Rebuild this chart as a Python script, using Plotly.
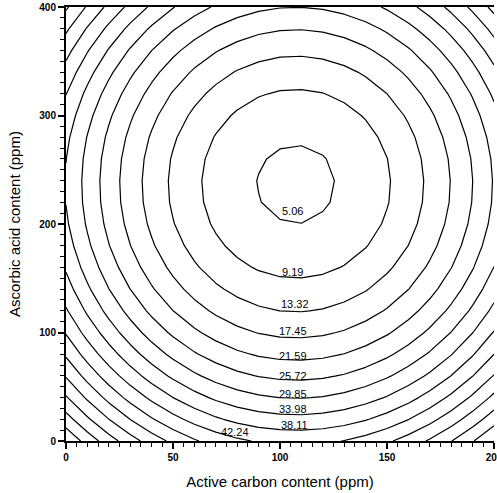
import numpy as np
import plotly.graph_objects as go

# Response-surface coefficients (second-order model, no interaction)
z_min = 4.17          # minimum response
x_opt = 107.5         # active carbon at minimum (ppm)
y_opt = 237.0         # ascorbic acid at minimum (ppm)
b_xx = 2.555e-3       # quadratic coefficient, active carbon
b_yy = 6.57e-4        # quadratic coefficient, ascorbic acid

# Design grid
x_grid = np.arange(0, 201, 10)
y_grid = np.arange(0, 401, 20)

# Contour levels and their printed labels
levels = [5.06, 9.19, 13.32, 17.45, 21.59, 25.72, 29.85, 33.98, 38.11, 42.24]
level_labels = ["5.06", "9.19", "13.32", "17.45", "21.59", "25.72", "29.85", "33.98", "38.11", "42.24"]
label_x = [106, 106, 107, 106, 106, 106, 106, 106, 107, 79]
label_lift_px = [13, 7, 8, 7, 5, 4, 4, 6, 5, 6]

x_ticks = [0, 50, 100, 150, 200]
y_ticks = [0, 100, 200, 300, 400]

X, Y = np.meshgrid(x_grid, y_grid)
Z = z_min + b_xx * (X - x_opt) ** 2 + b_yy * (Y - y_opt) ** 2

FONT = "Liberation Sans, Arial, sans-serif"

fig = go.Figure()
fig.add_trace(go.Contour(
    x=x_grid, y=y_grid, z=Z,
    contours=dict(start=levels[0], size=4.131, end=120, coloring="lines", showlabels=False),
    colorscale=[[0, "black"], [1, "black"]],
    line=dict(width=1.2, smoothing=0),
    showscale=False,
    hoverinfo="skip",
))

annotations = []
for lv, txt, lx, lift in zip(levels, level_labels, label_x, label_lift_px):
    rem = lv - z_min - b_xx * (lx - x_opt) ** 2
    ly = y_opt - np.sqrt(rem / b_yy)
    annotations.append(dict(
        x=lx, y=ly, xref="x", yref="y", text=txt, showarrow=False,
        xanchor="center", yanchor="middle", yshift=lift,
        font=dict(family=FONT, size=11, color="black"),
    ))

fig.update_layout(
    width=497, height=493,
    margin=dict(l=66, r=3, t=7, b=52),
    paper_bgcolor="white", plot_bgcolor="white",
    showlegend=False,
    annotations=annotations,
    font=dict(family=FONT, color="black"),
)
fig.update_xaxes(
    range=[0, 200], tickvals=x_ticks, ticktext=[str(v) for v in x_ticks],
    ticks="outside", ticklen=6, tickwidth=1.5, tickcolor="black",
    showline=True, linecolor="black", linewidth=2, mirror=True,
    showgrid=False, zeroline=False, automargin=False, ticklabeloverflow="allow",
    tickfont=dict(family=FONT, size=10, color="black", weight="bold"),
    minor=dict(dtick=5, ticks="outside", ticklen=4, tickwidth=1.2, tickcolor="black", showgrid=False),
    title=dict(text="Active carbon content (ppm)", font=dict(family=FONT, size=15), standoff=14),
)
fig.update_yaxes(
    range=[0, 400], tickvals=y_ticks, ticktext=[str(v) for v in y_ticks],
    ticks="outside", ticklen=6, tickwidth=1.5, tickcolor="black",
    showline=True, linecolor="black", linewidth=2,
    showgrid=False, zeroline=False, automargin=False, ticklabeloverflow="allow",
    tickfont=dict(family=FONT, size=10, color="black", weight="bold"),
    minor=dict(dtick=10, ticks="outside", ticklen=4, tickwidth=1.2, tickcolor="black", showgrid=False),
    title=dict(text="Ascorbic acid content (ppm)", font=dict(family=FONT, size=15), standoff=15),
)

fig.write_html(
    "out.html",
    config={"displayModeBar": False},
    post_script="document.body.style.margin='0';document.body.style.overflow='hidden';",
)
